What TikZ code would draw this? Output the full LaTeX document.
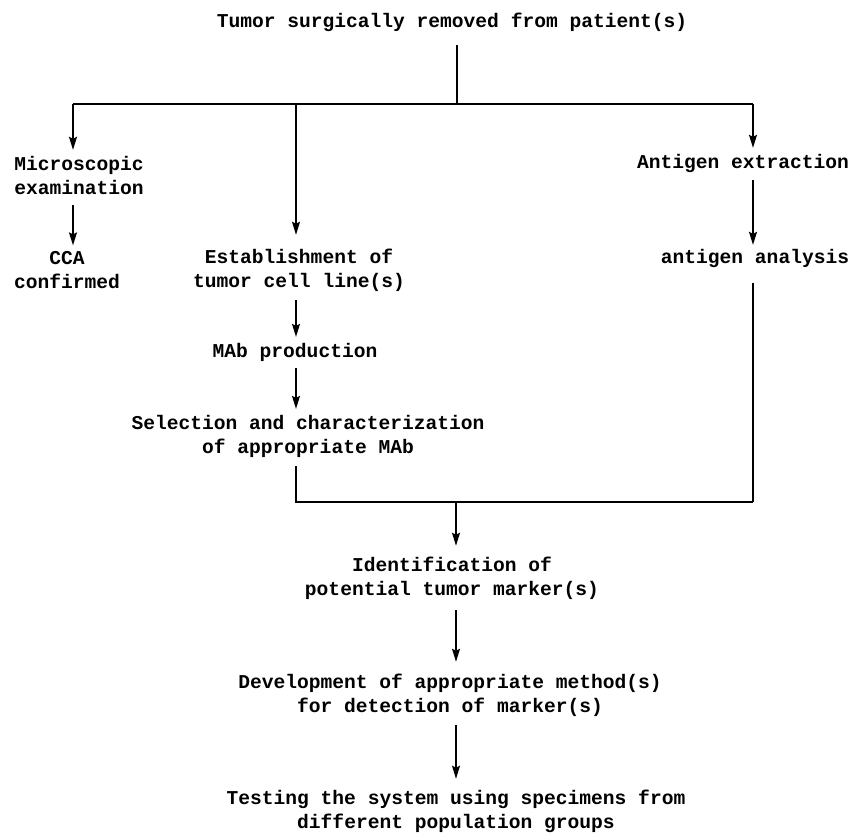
\documentclass[tikz,border=0pt]{standalone}
\usepackage{fontspec}
\setmonofont{Liberation Mono}
\usetikzlibrary{arrows.meta}
\begin{document}
\begin{tikzpicture}[x=0.5pt,y=-0.5pt,
  txt/.style={font=\ttfamily\bfseries\fontsize{9.8}{12}\selectfont, align=center, inner sep=0pt, outer sep=0pt},
  line/.style={line width=0.7pt},
  arr/.style={line width=0.7pt, -{Stealth[length=6.5pt,width=4pt,inset=1pt]}}]
\useasboundingbox (0,0) rectangle (853,837);
% nodes
\node[txt] (title) at (452,22) {Tumor surgically removed from patient(s)};
\node[txt] (micro) at (79,175) {Microscopic\\examination};
\node[txt] (cca) at (67,270) {CCA\\confirmed};
\node[txt] (establish) at (299,270) {Establishment of\\tumor cell line(s)};
\node[txt] (antext) at (743,163) {Antigen extraction};
\node[txt] (antana) at (755,258) {antigen analysis};
\node[txt] (mab) at (295,352) {MAb production};
\node[txt] (select) at (308,436) {Selection and characterization\\of appropriate MAb};
\node[txt] (ident) at (452,578) {Identification of\\potential tumor marker(s)};
\node[txt] (develop) at (450,695) {Development of appropriate method(s)\\for detection of marker(s)};
\node[txt] (testing) at (456,811) {Testing the system using specimens from\\different population groups};
% junctions
\coordinate (jT) at (457,104);
\coordinate (jL) at (73,104);
\coordinate (jM) at (296,104);
\coordinate (jR) at (753,104);
\coordinate (bL) at (296,502);
\coordinate (bC) at (456,502);
\coordinate (bR) at (753,502);
% top split
\draw[line, shorten <=7pt] (title.south -| jT) -- (jT);
\draw[line] (jL) -- (jR);
\draw[arr, shorten >=3pt] (jL) -- (micro.north -| jL);
\draw[arr, shorten >=3pt] (jR) -- (antext.north -| jR);
\draw[arr, shorten >=7pt] (jM) -- (establish.north -| jM);
% left column
\draw[arr, shorten <=5.5pt, shorten >=3pt] (micro.south -| jL) -- (cca.north -| jL);
% right column
\draw[arr, shorten <=4pt, shorten >=2pt] (antext.south -| jR) -- (antana.north -| jR);
\draw[line, shorten <=8pt] (antana.south -| jR) -- (bR);
% middle column
\draw[arr, shorten <=4.5pt, shorten >=3pt] (establish.south -| jM) -- (mab.north -| jM);
\draw[arr, shorten <=3.5pt, shorten >=3pt] (mab.south -| jM) -- (select.north -| jM);
\draw[line, shorten <=4.5pt] (select.south -| jM) -- (bL) -- (bR);
% bottom column
\draw[arr, shorten >=5.5pt] (bC) -- (ident.north -| bC);
\draw[arr, shorten <=5.5pt, shorten >=6pt] (ident.south -| bC) -- (develop.north -| bC);
\draw[arr, shorten <=4.5pt, shorten >=5.5pt] (develop.south -| bC) -- (testing.north -| bC);
\end{tikzpicture}
\end{document}
